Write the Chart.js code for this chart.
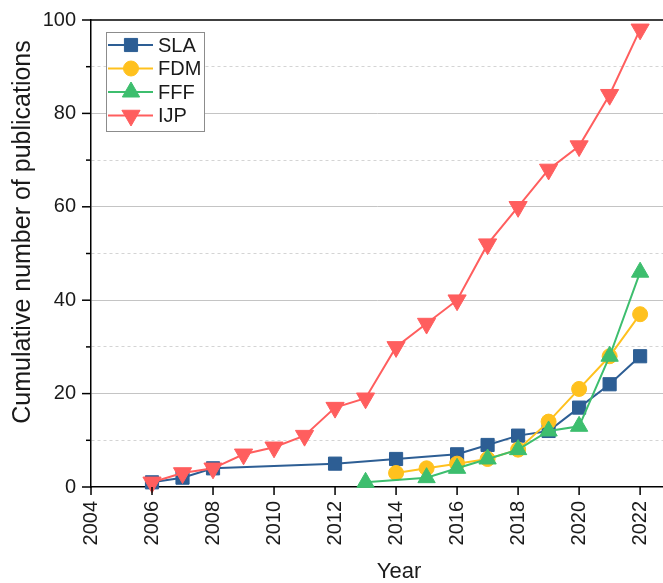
<!DOCTYPE html>
<html><head><meta charset="utf-8">
<script src="https://cdn.jsdelivr.net/npm/chart.js@4.4.0/dist/chart.umd.min.js"></script>
<style>html,body{margin:0;padding:0;background:#fff;overflow:hidden}#wrap{width:663px;height:583px;position:relative}</style>
</head><body><div id="wrap"><canvas id="c" width="663" height="583"></canvas></div>
<script>
const seriesNames = ['SLA', 'FDM', 'FFF', 'IJP'];
const slaYears = [2006, 2007, 2008, 2012, 2014, 2016, 2017, 2018, 2019, 2020, 2021, 2022];
const slaValues = [1, 2, 4, 5, 6, 7, 9, 11, 12, 17, 22, 28];
const fdmYears = [2014, 2015, 2016, 2017, 2018, 2019, 2020, 2021, 2022];
const fdmValues = [3, 4, 5, 6, 8, 14, 21, 28, 37];
const fffYears = [2013, 2015, 2016, 2017, 2018, 2019, 2020, 2021, 2022];
const fffValues = [1, 2, 4, 6, 8, 12, 13, 28, 46];
const ijpYears = [2006, 2007, 2008, 2009, 2010, 2011, 2012, 2013, 2014, 2015, 2016, 2017, 2018, 2019, 2020, 2021, 2022];
const ijpValues = [1, 3, 4, 7, 8.5, 11, 17, 19, 30, 35, 40, 52, 60, 68, 73, 84, 98];
const xTickLabels = [2004, 2006, 2008, 2010, 2012, 2014, 2016, 2018, 2020, 2022];
const yTickLabels = [0, 20, 40, 60, 80, 100];
const xTitle = 'Year';
const yTitle = 'Cumulative number of publications';

const FONT = "'Liberation Sans', Arial, sans-serif";
const colors = ['#2D5E94', '#FFC11E', '#3DBE6E', '#FF5E5E'];
const styles = [
  {pointStyle: 'rect', radius: 9.3, rotation: 0},
  {pointStyle: 'circle', radius: 7.5, rotation: 0},
  {pointStyle: 'triangle', radius: 10, rotation: 0},
  {pointStyle: 'triangle', radius: 10.5, rotation: 180}
];
const yearsList = [slaYears, fdmYears, fffYears, ijpYears];
const valuesList = [slaValues, fdmValues, fffValues, ijpValues];

const datasets = seriesNames.map((name, i) => ({
  label: name,
  data: yearsList[i].map((yr, j) => ({x: yr, y: valuesList[i][j]})),
  borderColor: colors[i],
  backgroundColor: colors[i],
  pointBackgroundColor: colors[i],
  pointBorderColor: colors[i],
  pointBorderWidth: 1,
  borderWidth: 2,
  pointStyle: styles[i].pointStyle,
  pointRadius: styles[i].radius,
  pointRotation: styles[i].rotation,
  pointHoverRadius: styles[i].radius,
  tension: 0,
  order: 4 - i,
  clip: false
}));

const zeroPad = s => { s.paddingLeft = 0; s.paddingRight = 0; s.paddingTop = 0; s.paddingBottom = 0; };

const framePlugin = {
  id: 'frame',
  afterDraw(chart) {
    const {ctx, chartArea: a, scales: {x, y}} = chart;
    ctx.save();
    ctx.strokeStyle = '#000';
    ctx.lineWidth = 1.5;
    y.ticks.forEach(t => {
      const py = y.getPixelForValue(t.value);
      const len = yTickLabels.includes(t.value) ? 9 : 5;
      ctx.beginPath(); ctx.moveTo(a.left - len, py); ctx.lineTo(a.left, py); ctx.stroke();
    });
    x.ticks.forEach(t => {
      const px = x.getPixelForValue(t.value);
      ctx.beginPath(); ctx.moveTo(px, a.bottom); ctx.lineTo(px, a.bottom + 8); ctx.stroke();
    });
    ctx.beginPath(); ctx.moveTo(a.left, a.top); ctx.lineTo(a.right, a.top); ctx.stroke();

    // titles
    ctx.fillStyle = '#1a1a1a';
    ctx.font = '22px ' + FONT;
    ctx.textAlign = 'center';
    ctx.textBaseline = 'alphabetic';
    ctx.fillText(xTitle, 399, 578);
    ctx.save();
    ctx.translate(30, 232);
    ctx.rotate(-Math.PI / 2);
    ctx.font = '25px ' + FONT;
    ctx.fillText(yTitle, 0, 0);
    ctx.restore();

    // legend
    ctx.lineWidth = 1;
    ctx.strokeStyle = '#8c8c8c';
    ctx.fillStyle = '#fff';
    ctx.fillRect(106, 32, 98, 99);
    ctx.strokeRect(106.5, 32.5, 98, 99);
    const rows = [45, 68.5, 92, 115.5];
    seriesNames.forEach((name, i) => {
      const ry = rows[i];
      ctx.strokeStyle = colors[i];
      ctx.lineWidth = 2;
      ctx.beginPath(); ctx.moveTo(108, ry); ctx.lineTo(153, ry); ctx.stroke();
      ctx.fillStyle = colors[i];
      ctx.lineWidth = 1;
      Chart.helpers.drawPoint(ctx, {pointStyle: styles[i].pointStyle, radius: styles[i].radius, rotation: styles[i].rotation, borderWidth: 1}, 131, ry);
      ctx.fillStyle = '#1a1a1a';
      ctx.font = '20px ' + FONT;
      ctx.textAlign = 'left';
      ctx.textBaseline = 'middle';
      ctx.fillText(name, 158, ry + 1);
    });
    ctx.restore();
  }
};

new Chart(document.getElementById('c'), {
  type: 'line',
  data: {datasets},
  options: {
    responsive: false,
    devicePixelRatio: 1,
    animation: false,
    layout: {autoPadding: false, padding: {top: 20, right: 0, left: 0, bottom: 0}},
    plugins: {legend: {display: false}, tooltip: {enabled: false}},
    scales: {
      x: {
        type: 'linear',
        min: 2004,
        max: 2022.75,
        afterBuildTicks: s => { s.ticks = xTickLabels.map(v => ({value: v})); },
        afterFit: s => { s.height = 96; zeroPad(s); },
        grid: {drawOnChartArea: false, drawTicks: false},
        border: {display: true, color: '#000', width: 1.5},
        ticks: {
          autoSkip: false, minRotation: 90, maxRotation: 90, padding: 14,
          color: '#1a1a1a', font: {family: FONT, size: 20},
          callback: v => String(v)
        }
      },
      y: {
        min: 0,
        max: 100,
        afterBuildTicks: s => { const t = []; for (let v = 0; v <= 100; v += 10) t.push({value: v}); s.ticks = t; },
        afterFit: s => { s.width = 91; zeroPad(s); },
        grid: {
          drawTicks: false,
          color: c => (c.tick && (c.tick.value === 0 || c.tick.value === 100)) ? 'rgba(0,0,0,0)' : (c.tick && yTickLabels.includes(c.tick.value) ? '#c4c4c4' : '#d4d4d4'),
          lineWidth: 1
        },
        border: {
          display: true, color: '#000', width: 1.5,
          dash: c => (c.tick && !yTickLabels.includes(c.tick.value)) ? [3, 3] : []
        },
        ticks: {
          padding: 15, color: '#1a1a1a', font: {family: FONT, size: 20},
          callback: v => yTickLabels.includes(v) ? String(v) : ''
        }
      }
    }
  },
  plugins: [framePlugin]
});
</script>
</body></html>
